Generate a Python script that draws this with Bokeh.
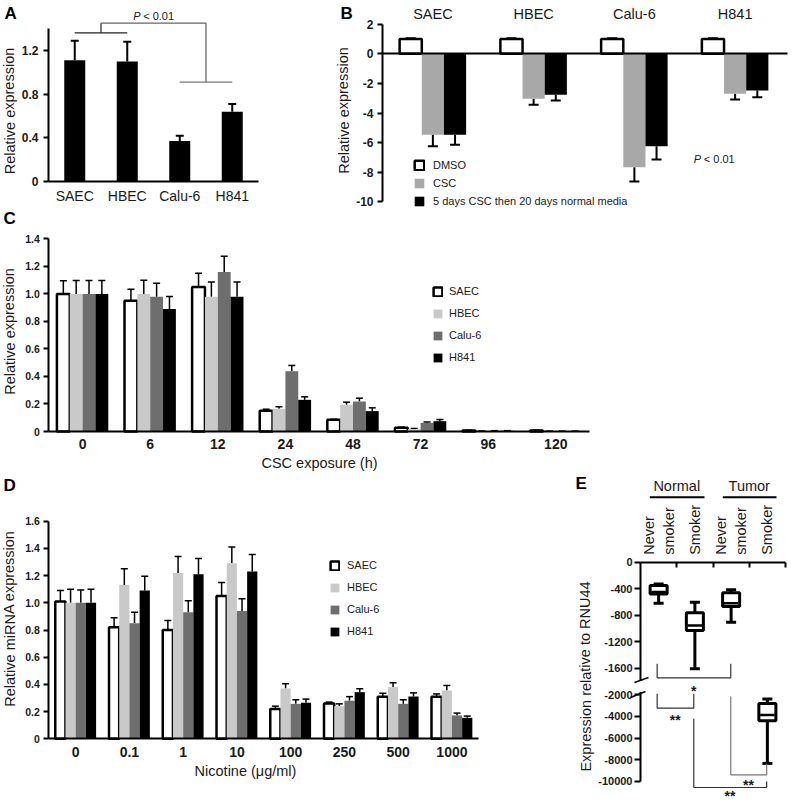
from bokeh.plotting import figure
from bokeh.models import (ColumnDataSource, Range1d, FixedTicker, Whisker, TeeHead,
                          Label, Legend, LegendItem, Arrow)
from bokeh.layouts import column, row
from bokeh.transform import dodge
from bokeh.core.properties import value
from bokeh.embed import file_html
from bokeh.resources import INLINE

# ------------------------------------------------------------------ data
# Panel A
a_cells = ["SAEC", "HBEC", "Calu-6", "H841"]
a_mean = [1.11, 1.10, 0.37, 0.64]
a_err = [0.18, 0.18, 0.05, 0.07]
a_yticks = [0, 0.4, 0.8, 1.2]
a_ylabels = ["0", "0.4", "0.8", "1.2"]

# Panel B
b_cells = ["SAEC", "HBEC", "Calu-6", "H841"]
b_names = ["DMSO", "CSC", "5 days CSC then 20 days normal media"]
b_dmso = [1.0, 1.0, 1.0, 1.0]
b_dmso_err = [0.05, 0.05, 0.05, 0.05]
b_csc = [-5.47, -3.04, -7.66, -2.70]
b_csc_err = [0.77, 0.41, 0.97, 0.39]
b_rec = [-5.47, -2.77, -6.24, -2.48]
b_rec_err = [0.68, 0.39, 0.90, 0.45]
b_yticks = [2, 0, -2, -4, -6, -8, -10]
b_ylabels = ["2", "0", "-2", "-4", "-6", "-8", "-10"]

# Panel C
c_hours = ["0", "6", "12", "24", "48", "72", "96", "120"]
c_saec = [1.00, 0.95, 1.05, 0.150, 0.085, 0.028, 0.008, 0.008]
c_saec_err = [0.095, 0.083, 0.100, 0.012, 0.004, 0.004, 0.001, 0.001]
c_hbec = [1.00, 1.00, 0.98, 0.165, 0.194, 0.018, 0.003, 0.002]
c_hbec_err = [0.097, 0.100, 0.107, 0.015, 0.019, 0.004, 0.001, 0.001]
c_calu = [1.00, 0.98, 1.16, 0.438, 0.218, 0.063, 0.005, 0.002]
c_calu_err = [0.097, 0.097, 0.114, 0.042, 0.024, 0.006, 0.001, 0.001]
c_h841 = [1.00, 0.89, 0.98, 0.230, 0.148, 0.075, 0.005, 0.002]
c_h841_err = [0.097, 0.092, 0.107, 0.022, 0.024, 0.012, 0.001, 0.001]
c_yticks = [0, 0.2, 0.4, 0.6, 0.8, 1.0, 1.2, 1.4]
c_ylabels = ["0", "0.2", "0.4", "0.6", "0.8", "1.0", "1.2", "1.4"]

# Panel D
d_conc = ["0", "0.1", "1", "10", "100", "250", "500", "1000"]
d_saec = [1.01, 0.82, 0.80, 1.05, 0.22, 0.26, 0.31, 0.31]
d_saec_err = [0.08, 0.07, 0.07, 0.10, 0.02, 0.01, 0.025, 0.02]
d_hbec = [1.00, 1.13, 1.22, 1.29, 0.37, 0.24, 0.38, 0.355]
d_hbec_err = [0.10, 0.12, 0.12, 0.12, 0.035, 0.017, 0.032, 0.037]
d_calu = [1.00, 0.85, 0.93, 0.94, 0.257, 0.28, 0.257, 0.172]
d_calu_err = [0.095, 0.08, 0.085, 0.09, 0.03, 0.03, 0.03, 0.017]
d_h841 = [1.00, 1.09, 1.21, 1.23, 0.265, 0.343, 0.311, 0.154]
d_h841_err = [0.10, 0.105, 0.115, 0.125, 0.027, 0.025, 0.027, 0.013]
d_yticks = [0, 0.2, 0.4, 0.6, 0.8, 1.0, 1.2, 1.4, 1.6]
d_ylabels = ["0", "0.2", "0.4", "0.6", "0.8", "1.0", "1.2", "1.4", "1.6"]

# Panel E (box plots, expression relative to RNU44)
e_groups = ["Normal never smoker", "Normal smoker", "Tumor never smoker", "Tumor smoker"]
e_lines = [["Never", "smoker"], ["Smoker"], ["Never", "smoker"], ["Smoker"]]
e_tissue = ["Normal", "Tumor"]
e_max = [-330, -604, -417, -2396]
e_q3 = [-350, -764, -462, -2800]
e_med = [-450, -956, -620, -3871]
e_q1 = [-480, -1031, -669, -4396]
e_min = [-620, -1609, -906, -8332]
e_yticks = [0, -400, -800, -1200, -1600, -2000, -4000, -6000, -8000, -10000]
e_ylabels = ["0", "-400", "-800", "-1200", "-1600", "-2000", "-4000", "-6000", "-8000", "-10000"]
E_BREAK = -2000
E_LOW = 0.16375   # compression of the axis below the break


def brk(v):
    return v if v >= E_BREAK else E_BREAK + (v - E_BREAK) * E_LOW


# ------------------------------------------------------------------ style
TXT = "Liberation Sans"
NUM = "Liberation Sans Narrow, Liberation Sans"
INK = "#1a1a1a"
LIGHT = "#c9c9c9"
DARK = "#6e6e6e"
MID = "#a8a8a8"


class Geo:
    """Page geometry of one panel: figure box and where its data origin sits (px)."""
    def __init__(self, fx, fy, w, h, x0, px, y0, py):
        self.fx, self.fy, self.w, self.h = fx, fy, w, h
        self.x0, self.px, self.y0, self.py = x0, px, y0, py

    def X(self, rx):
        return (rx - self.x0) / self.px

    def Y(self, ry):
        return (self.y0 - ry) / self.py


def make_fig(g):
    p = figure(width=g.w, height=g.h, output_backend="svg", toolbar_location=None,
               x_range=Range1d(g.X(g.fx), g.X(g.fx + g.w)),
               y_range=Range1d(g.Y(g.fy + g.h), g.Y(g.fy)),
               min_border_left=0, min_border_right=0, min_border_top=0, min_border_bottom=0)
    p.outline_line_color = None
    p.grid.visible = False
    p.xaxis.fixed_location = 0
    p.yaxis.fixed_location = 0
    return p


def style_y(p, ticks, labels, bounds, size="11px", tick_out=5, standoff=4):
    ax = p.yaxis[0]
    ax.ticker = FixedTicker(ticks=ticks)
    ax.major_label_overrides = dict(zip(ticks, labels))
    ax.bounds = bounds
    ax.axis_line_width = 2
    ax.axis_line_color = "black"
    ax.major_tick_line_width = 2
    ax.major_tick_out = tick_out
    ax.major_tick_in = 0
    ax.minor_tick_line_color = None
    ax.major_label_standoff = standoff
    ax.major_label_text_font = NUM
    ax.major_label_text_font_style = "bold"
    ax.major_label_text_font_size = size
    ax.major_label_text_color = INK


def style_x(p, cats, bounds, font, style, size, standoff):
    ax = p.xaxis[0]
    ticks = [i + 0.5 for i in range(len(cats))]
    ax.ticker = FixedTicker(ticks=ticks)
    ax.major_label_overrides = dict(zip(ticks, cats))
    ax.bounds = bounds
    ax.axis_line_width = 2
    ax.axis_line_color = "black"
    ax.major_tick_line_color = None
    ax.minor_tick_line_color = None
    ax.major_label_standoff = standoff
    ax.major_label_text_font = font
    ax.major_label_text_font_style = style
    ax.major_label_text_font_size = size
    ax.major_label_text_color = INK


def title_label(p, g, text, rx, ry, vertical=False, size="14.5px"):
    p.add_layout(Label(x=g.X(rx), y=g.Y(ry), text=text, angle=1.5708 if vertical else 0,
                       text_font=TXT, text_font_size=size, text_align="center",
                       text_baseline="middle", text_color=INK))


def letter(p, g, text, rx, ry):
    p.add_layout(Label(x=g.X(rx), y=g.Y(ry), text=text, text_font=TXT, text_font_style="bold",
                       text_font_size="17px", text_align="left", text_baseline="middle",
                       text_color="black"))


def ptext(p, g, rx, ry, size="11px"):
    p.add_layout(Label(x=g.X(rx), y=g.Y(ry), text="P", text_font=TXT, text_font_style="italic",
                       text_font_size=size, text_align="left", text_baseline="middle",
                       text_color=INK))
    p.add_layout(Label(x=g.X(rx), y=g.Y(ry), x_offset=10, text="< 0.01", text_font=TXT,
                       text_font_size=size, text_align="left", text_baseline="middle",
                       text_color=INK))


def legend(p, items, loc, gw, spacing, standoff):
    lg = Legend(items=items, location=loc, orientation="vertical", glyph_width=gw,
                glyph_height=gw, label_height=gw, spacing=spacing, padding=0, margin=0,
                label_standoff=standoff, border_line_color=None, background_fill_alpha=0,
                label_text_font=TXT, label_text_font_size="11px", label_text_color=INK)
    p.add_layout(lg)


def centers(cats):
    return [i + 0.5 for i in range(len(cats))]


ROW1_H = 208

# ------------------------------------------------------------------ panel A
ga = Geo(0, 0, 290, ROW1_H, 48, 52.5, 181, 109.17)
pa = make_fig(ga)
src_a = ColumnDataSource(dict(x=centers(a_cells), top=a_mean,
                              hi=[m + e for m, e in zip(a_mean, a_err)]))
pa.vbar(x="x", top="top", width=0.4, source=src_a, fill_color="black", line_color=None)
pa.add_layout(Whisker(base="x", lower="top", upper="hi", source=src_a, line_width=2,
                      lower_head=None, upper_head=TeeHead(size=8, line_width=2)))
style_y(pa, a_yticks, a_ylabels, (0, 1.4), size="12px", standoff=5)
style_x(pa, a_cells, (0, 4), TXT, "normal", "14px", 0)
pa.multi_line(xs=[[0.5, 1.5], [1.0, 1.0], [1.0, 3.0, 3.0], [2.5, 3.5]],
              ys=[[1.362, 1.362], [1.362, 1.45], [1.45, 1.45, 0.91], [0.91, 0.91]],
              line_color=["#222222", "#333333", "#666666", "#777777"], line_width=1.3)
ptext(pa, ga, 132.7, 15)
title_label(pa, ga, "Relative expression", 9, 110.5, vertical=True)
letter(pa, ga, "A", 4, 13)

# ------------------------------------------------------------------ panel B
gb = Geo(290, 0, 503, ROW1_H, 382, 100.75, 53.3, 14.8)
pb = make_fig(gb)
b_x = centers(b_cells)
b_specs = [(b_dmso, b_dmso_err, "white", -0.22), (b_csc, b_csc_err, MID, 0.0),
           (b_rec, b_rec_err, "black", 0.22)]
b_rends = []
for vals, errs, col, off in b_specs:
    src = ColumnDataSource(dict(x=b_x, top=vals,
                                lo=[v - e if v < 0 else v for v, e in zip(vals, errs)],
                                hi=[v + e if v > 0 else v for v, e in zip(vals, errs)]))
    r = pb.vbar(x=dodge("x", off), top="top", bottom=0, width=0.22, source=src,
                fill_color=col, line_color="black" if col == "white" else None, line_width=2.5)
    b_rends.append(r)
    neg = vals[0] < 0
    pb.add_layout(Whisker(base=dodge("x", off), lower="lo", upper="hi", source=src, line_width=2,
                          lower_head=TeeHead(size=10, line_width=2) if neg else None,
                          upper_head=None if neg else TeeHead(size=10, line_width=2)))
style_y(pb, b_yticks, b_ylabels, (-10, 2), size="12px", standoff=4)
xb = pb.xaxis[0]
xb.bounds = (0, 4.02)
xb.ticker = FixedTicker(ticks=[])
xb.axis_line_width = 2
xb.major_tick_line_color = None
xb.minor_tick_line_color = None
pb.text(x=b_x, y=[gb.Y(13)] * len(b_cells), text=b_cells, text_font=value(TXT),
        text_font_size="14.5px", text_align="center", text_baseline="middle", text_color=INK)
legend(pb, [LegendItem(label=n, renderers=[r]) for n, r in zip(b_names, b_rends)],
       (123, 1), 12, 6, 8)
ptext(pb, gb, 693.3, 158)
title_label(pb, gb, "Relative expression", 343, 110, vertical=True)
letter(pb, gb, "B", 340, 13)


# ------------------------------------------------------------------ grouped bars helper
def grouped(p, cats, series, width, offs, lw):
    xs = centers(cats)
    items = []
    for (name, vals, errs, col), off in zip(series, offs):
        src = ColumnDataSource(dict(x=xs, top=vals, hi=[v + e for v, e in zip(vals, errs)]))
        r = p.vbar(x=dodge("x", off), top="top", width=width, source=src,
                   fill_color=col, line_color="black" if col == "white" else None, line_width=lw)
        p.add_layout(Whisker(base=dodge("x", off), lower="top", upper="hi", source=src,
                             line_width=1.5, lower_head=None,
                             upper_head=TeeHead(size=7, line_width=1.5)))
        items.append(LegendItem(label=name, renderers=[r]))
    return items


# ------------------------------------------------------------------ panel C
gc = Geo(0, ROW1_H, 792, 475 - ROW1_H, 48.3, 67.6, 431, 137.6)
pc = make_fig(gc)
c_series = [("SAEC", c_saec, c_saec_err, "white"), ("HBEC", c_hbec, c_hbec_err, LIGHT),
            ("Calu-6", c_calu, c_calu_err, DARK), ("H841", c_h841, c_h841_err, "black")]
c_items = grouped(pc, c_hours, c_series, 0.19, [-0.285, -0.095, 0.095, 0.285], 2.5)
style_y(pc, c_yticks, c_ylabels, (0, 1.4), size="10.5px")
style_x(pc, c_hours, (0, 8), NUM, "bold", "14px", 1)
legend(pc, c_items, (432, 112), 11, 10, 6)
title_label(pc, gc, "Relative expression", 9, 331, vertical=True)
title_label(pc, gc, "CSC exposure (h)", 319, 462)
letter(pc, gc, "C", 3, 218)

# ------------------------------------------------------------------ panel D
gd = Geo(0, 475, 560, 329, 48.3, 53.75, 738.3, 136)
pd = make_fig(gd)
d_series = [("SAEC", d_saec, d_saec_err, "white"), ("HBEC", d_hbec, d_hbec_err, LIGHT),
            ("Calu-6", d_calu, d_calu_err, DARK), ("H841", d_h841, d_h841_err, "black")]
d_items = grouped(pd, d_conc, d_series, 0.19, [-0.285, -0.095, 0.095, 0.285], 2.5)
style_y(pd, d_yticks, d_ylabels, (0, 1.6), size="10.5px")
style_x(pd, d_conc, (0, 8), NUM, "bold", "14px", 2)
legend(pd, d_items, (329, 167), 11, 10, 7)
title_label(pd, gd, "Relative miRNA expression", 9, 618, vertical=True)
title_label(pd, gd, "Nicotine (\u03bcg/ml)", 245, 770)
letter(pd, gd, "D", 3, 485)

# ------------------------------------------------------------------ panel E
ge = Geo(560, 475, 232, 329, 640, 36.25, 561.7, 0.06625)
pe = make_fig(ge)
e_x = centers(e_groups)
src_e = ColumnDataSource(dict(x=e_x, mx=[brk(v) for v in e_max], q3=[brk(v) for v in e_q3],
                              med=[brk(v) for v in e_med], q1=[brk(v) for v in e_q1],
                              mn=[brk(v) for v in e_min]))
pe.add_layout(Whisker(base="x", lower="mn", upper="mx", source=src_e, level="underlay",
                      line_width=3, line_color="black",
                      lower_head=TeeHead(size=10, line_width=3),
                      upper_head=TeeHead(size=10, line_width=3)))
pe.vbar(x="x", top="q3", bottom="q1", width=0.47, source=src_e, fill_color="white",
        line_color="black", line_width=3)
pe.segment(x0=dodge("x", -0.2), x1=dodge("x", 0.2), y0="med", y1="med", source=src_e,
           line_color="black", line_width=2.5)
style_y(pe, [brk(v) for v in e_yticks], e_ylabels, (brk(-10000), 0), size="11px",
        tick_out=6, standoff=2)
xe = pe.xaxis[0]
xe.ticker = FixedTicker(ticks=[1, 2, 3, 4])
xe.major_label_overrides = {1: "", 2: "", 3: "", 4: ""}
xe.bounds = (0, 4)
xe.axis_line_width = 2
xe.major_tick_line_width = 2
xe.major_tick_out = 5
xe.major_tick_in = 0
xe.minor_tick_line_color = None
# axis break
pe.add_layout(Arrow(end=None, x_start=0, y_start=ge.Y(680.5), x_end=0, y_end=ge.Y(691.5),
                    line_color="white", line_width=6))
pe.add_layout(Arrow(end=None, x_start=ge.X(634), y_start=ge.Y(682), x_end=ge.X(648),
                    y_end=ge.Y(677), line_color="black", line_width=1.5))
pe.add_layout(Arrow(end=None, x_start=ge.X(630), y_start=ge.Y(697), x_end=ge.X(645),
                    y_end=ge.Y(691), line_color="black", line_width=1.5))
# significance brackets
Y = ge.Y
pe.multi_line(xs=[[0.46, 0.46, 2.49, 2.49], [0.46, 0.46, 1.47, 1.47],
                  [2.49, 2.49, 3.48, 3.48], [1.47, 1.47, 3.48, 3.48]],
              ys=[[Y(663.3), Y(677.3), Y(677.3), Y(663.3)],
                  [Y(693.3), Y(707.7), Y(707.7), Y(693.3)],
                  [Y(696), Y(774.3), Y(774.3), Y(763.3)],
                  [Y(718.3), Y(787), Y(787), Y(781)]],
              line_color=["#333333", "#333333", "#777777", "#333333"], line_width=1.2)
for sx, sy, st in [(1.47, 690, "*"), (0.96, 719, "**"), (2.98, 784, "**"), (2.47, 795, "**")]:
    pe.add_layout(Label(x=sx, y=Y(sy), text=st, text_font=TXT, text_font_style="bold",
                        text_font_size="14px", text_align="center", text_baseline="middle",
                        text_color=INK))
# group headers
for tx, lab, (u0, u1) in zip([1.0, 3.0], e_tissue, [(649.3, 704), (722.3, 776)]):
    pe.add_layout(Label(x=tx, y=Y(485.7), text=lab, text_font=TXT, text_font_size="14.5px",
                        text_align="center", text_baseline="middle", text_color=INK))
    pe.add_layout(Arrow(end=None, x_start=ge.X(u0), y_start=Y(496.7), x_end=ge.X(u1),
                        y_end=Y(496.7), line_color="black", line_width=2))
for xc, lines in zip(e_x, e_lines):
    n = len(lines)
    for k, ln in enumerate(lines):
        pe.add_layout(Label(x=xc, y=Y(554.3), x_offset=(k - (n - 1) / 2) * 20, text=ln,
                            angle=1.5708, text_font=TXT, text_font_size="14.5px",
                            text_align="left", text_baseline="middle", text_color=INK))
title_label(pe, ge, "Expression relative to RNU44", 585, 676, vertical=True)
letter(pe, ge, "E", 575, 483)

layout = column(row(pa, pb), pc, row(pd, pe))
open("out.html", "w").write(file_html(layout, INLINE))
